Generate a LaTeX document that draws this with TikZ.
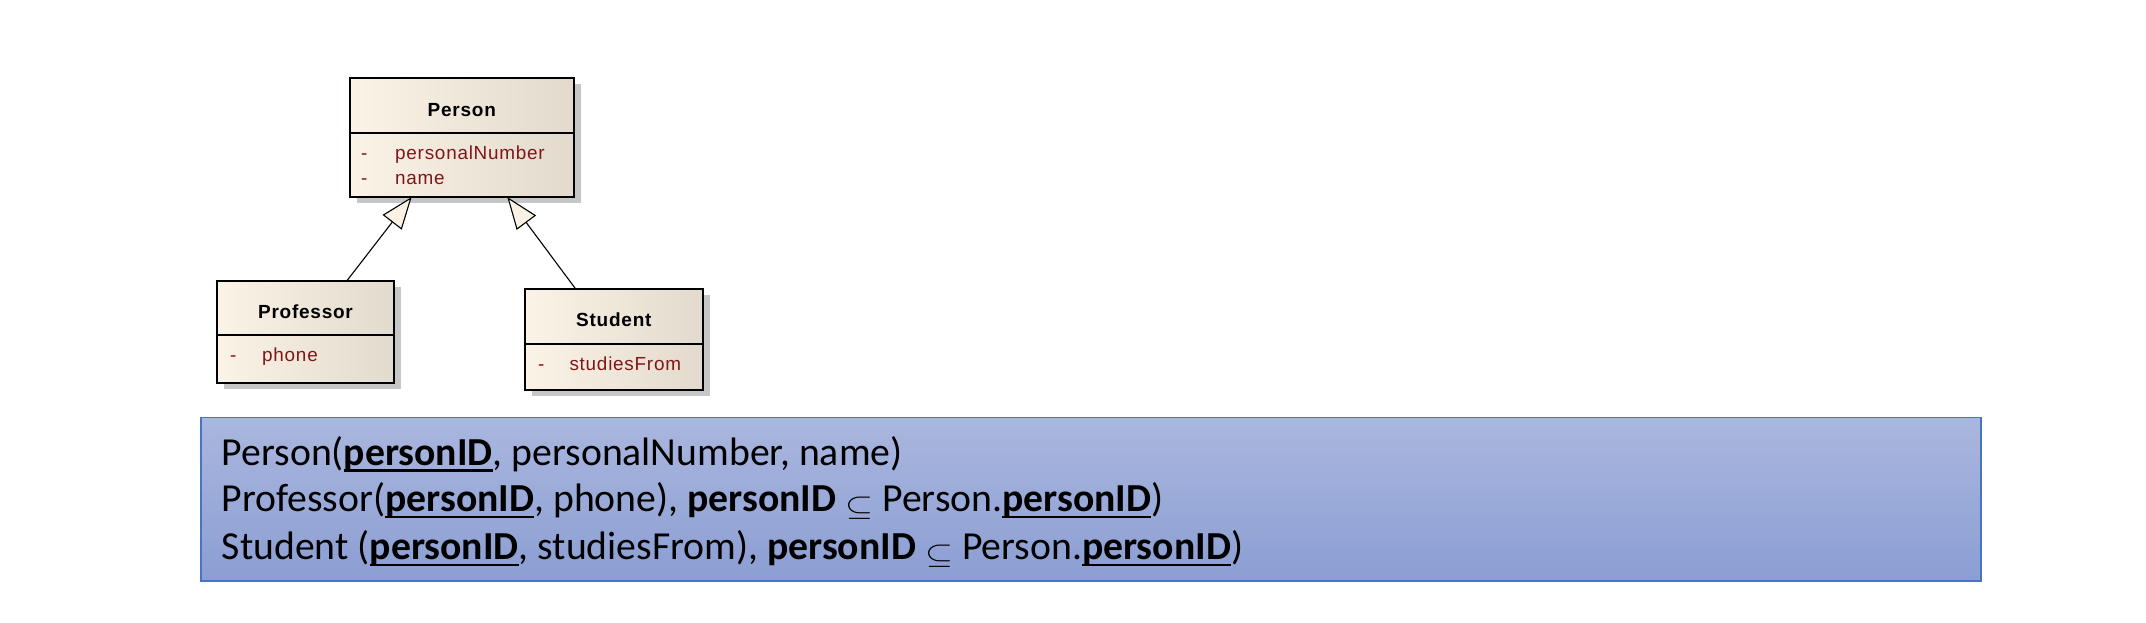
\documentclass[tikz,border=0pt]{standalone}
\usepackage{fontspec}
\usetikzlibrary{arrows.meta,shadows}
\newfontfamily\umlfont[LetterSpace=4]{Liberation Sans}
\newfontfamily\calib{Carlito}
\definecolor{umlL}{RGB}{251,243,230}
\definecolor{umlR}{RGB}{226,218,204}
\definecolor{shadowc}{RGB}{198,198,198}
\definecolor{attrc}{RGB}{128,22,22}
\definecolor{arrowfill}{RGB}{250,242,228}
\definecolor{relT}{RGB}{170,183,222}
\definecolor{relB}{RGB}{139,158,211}
\definecolor{relborder}{RGB}{76,114,196}
\newcommand\ulb[1]{\setbox0\hbox{\bfseries #1}\rlap{\vrule width\wd0 height -4pt depth 6.5pt}\box0}
\newcommand\subsym{\raisebox{-4pt}{\scalebox{3.6}[2.9]{\normalsize$\subseteq$}}}
\begin{document}
\begin{tikzpicture}[x=1pt,y=-1pt,
  umlbox/.style={draw=black, line width=1.6pt, left color=umlL, right color=umlR,
    inner sep=0pt, outer sep=0pt,
    drop shadow={shadow xshift=7pt, shadow yshift=-6pt, fill=shadowc, opacity=1, draw=none}},
  sepline/.style={draw=black, line width=1.2pt},
  hdr/.style={font=\umlfont\bfseries\fontsize{19}{22}\selectfont, text=black, inner sep=0pt, anchor=base},
  attr/.style={font=\umlfont\fontsize{18.9}{22}\selectfont, text=attrc, inner sep=0pt, anchor=base west},
  genarrow/.style={draw=black, line width=1.1pt, -{Triangle[length=32pt,width=24pt,fill=arrowfill]}},
  rtext/.style={font=\calib\fontsize{39.7}{48}\selectfont, text=black, inner sep=0pt, anchor=base west}
]
\useasboundingbox[fill=white] (0,0) rectangle (2146,622);

% UML classes
\node[umlbox, minimum width=223.7pt, minimum height=119pt] (person) at (461.85,137.5) {};
\node[umlbox, minimum width=177pt, minimum height=102pt] (prof) at (305.5,332) {};
\node[umlbox, minimum width=177.7pt, minimum height=101pt] (stud) at (613.85,339.5) {};

\draw[sepline] ([yshift=-55pt]person.north west) -- ([yshift=-55pt]person.north east);
\draw[sepline] ([yshift=-54pt]prof.north west) -- ([yshift=-54pt]prof.north east);
\draw[sepline] ([yshift=-55pt]stud.north west) -- ([yshift=-55pt]stud.north east);

\node[hdr] (personT) at (461.85,116.3) {Person};
\node[hdr] (profT) at (305.5,318.3) {Professor};
\node[hdr] (studT) at (613.85,326.7) {Student};

\node[attr] (pd1) at (361,159.3) {-};
\node[attr] (pa1) at (395,159.3) {personalNumber};
\node[attr] (pd2) at (361,184.7) {-};
\node[attr] (pa2) at (395,184.7) {name};
\node[attr] (prd1) at (230,361.7) {-};
\node[attr] (pra1) at (262,361.7) {phone};
\node[attr] (sd1) at (538,370) {-};
\node[attr] (sa1) at (569.3,370) {studiesFrom};

% generalizations
\coordinate (a1s) at ([xshift=41.2pt]prof.north);
\coordinate (a1e) at ([xshift=-50.15pt]person.south);
\coordinate (a2s) at ([xshift=-38.15pt]stud.north);
\coordinate (a2e) at ([xshift=45.45pt]person.south);
\draw[genarrow] (a1s) -- (a1e);
\draw[genarrow] (a2s) -- (a2e);

% relational schema
\node[draw=relborder, line width=1.5pt, top color=relT, bottom color=relB,
  minimum width=1780pt, minimum height=163.7pt, inner sep=0pt, outer sep=0pt] (rel) at (1091,499.15) {};
\node[rtext] (l1) at (221.7,465) {Person(\ulb{personID}, personalNumber, name)};
\node[rtext] (l2) at (221.7,511.5) {Professor(\ulb{personID}, phone), \textbf{personID} \subsym\ Person.\ulb{personID})};
\node[rtext] (l3) at (221.7,559.5) {Student (\ulb{personID}, studiesFrom), \textbf{personID} \subsym\ Person.\ulb{personID})};
\end{tikzpicture}
\end{document}
